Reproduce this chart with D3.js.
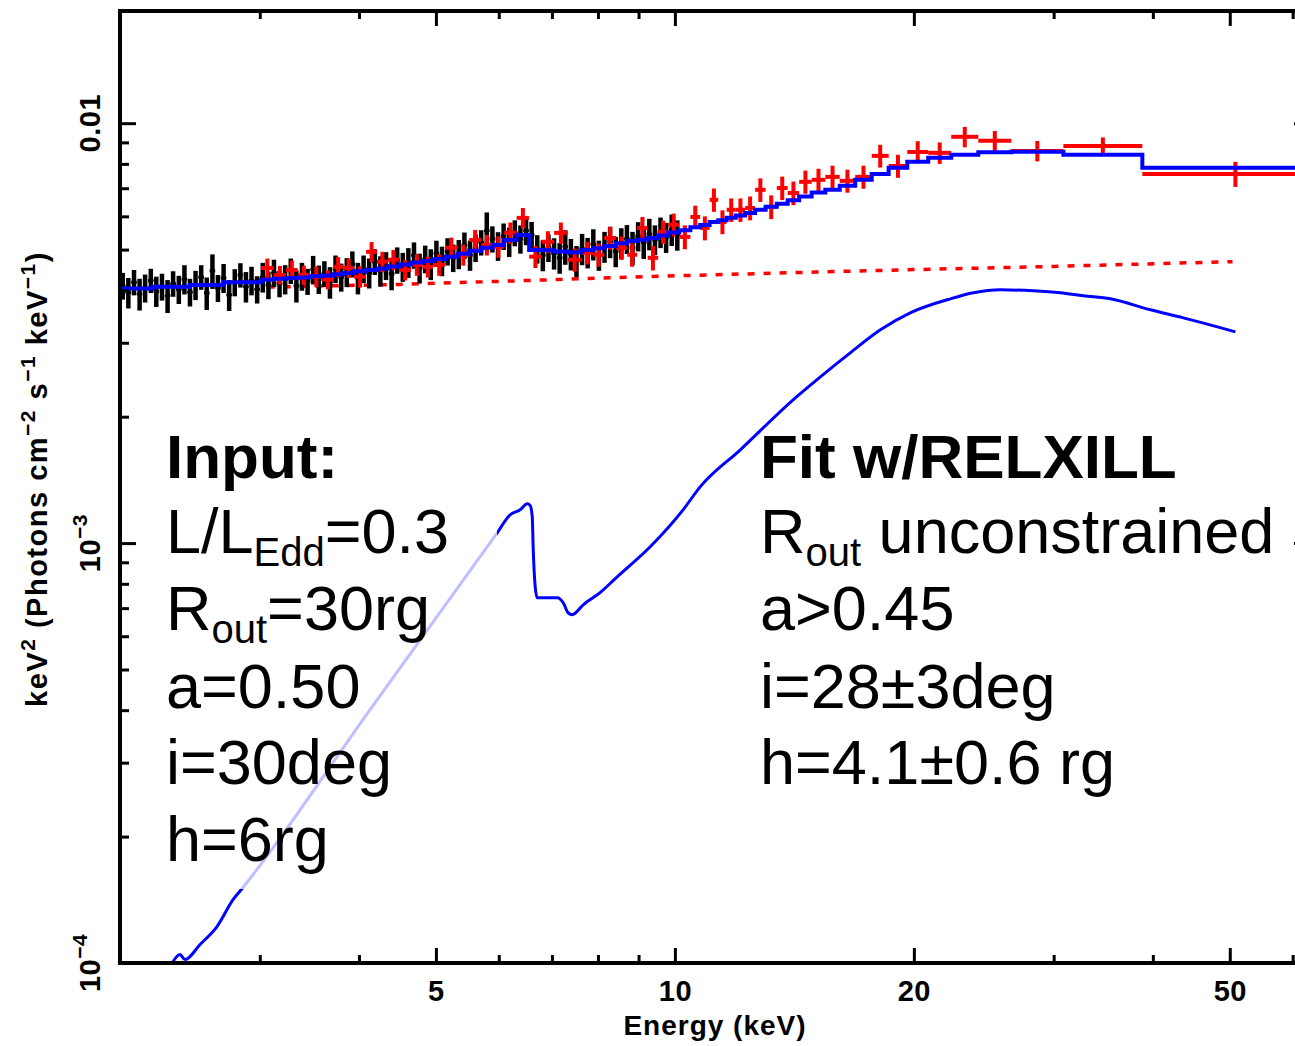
<!DOCTYPE html>
<html>
<head>
<meta charset="utf-8">
<script src="https://cdn.jsdelivr.net/npm/d3@7"></script>
<style>
  html, body { margin: 0; padding: 0; background: #fff; overflow: hidden; }
  svg { display: block; }
  text { font-family: "Liberation Sans", Arial, Helvetica, sans-serif; fill: #000; }
</style>
</head>
<body>
<svg id="chart" width="1295" height="1046"></svg>
<script>
// ---------------------------------------------------------------
// Unfolded spectrum, E^2 F(E); flux values below are in units of 1e-3
// keV^2 (Photons cm^-2 s^-1 keV^-1)
// ---------------------------------------------------------------
const FLUX_UNIT = 1e-3;

// axis ranges and ticks
const xDomain = [2, 63.1];
const yDomain = [1e-4, 0.0185];
const xTickMajor = [5, 10, 20, 50];
const xTickMinor = [3, 4, 6, 7, 8, 9, 30, 40, 60];
const yTickMajor = [1e-4, 1e-3, 1e-2];
const yTickMinor = [2e-4, 3e-4, 4e-4, 5e-4, 6e-4, 7e-4, 8e-4, 9e-4,
                    2e-3, 3e-3, 4e-3, 5e-3, 6e-3, 7e-3, 8e-3, 9e-3];
const yTickLabels = [["10", "\u22124"], ["10", "\u22123"], ["0.01", ""]];

// soft-band data (black): bin centre energies (keV), flux, 1-sigma error
const blackE = [2.016,2.049,2.083,2.117,2.151,2.187,2.222,2.259,2.296,2.333,
  2.372,2.411,2.450,2.490,2.531,2.572,2.615,2.657,2.701,2.745,
  2.790,2.836,2.882,2.929,2.977,3.026,3.076,3.126,3.177,3.229,
  3.282,3.336,3.390,3.446,3.502,3.560,3.618,3.677,3.737,3.799,
  3.861,3.924,3.988,4.054,4.120,4.188,4.256,4.326,4.397,4.469,
  4.542,4.616,4.692,4.769,4.847,4.926,5.007,5.089,5.172,5.257,
  5.343,5.431,5.520,5.610,5.702,5.795,5.890,5.987,6.085,6.185,
  6.286,6.389,6.494,6.600,6.708,6.818,6.930,7.044,7.159,7.276,
  7.396,7.517,7.640,7.765,7.893,8.022,8.154,8.287,8.423,8.561,
  8.701,8.844,8.989,9.136,9.286,9.438,9.592,9.749,9.909,10.07];
const blackFlux = [4.10,3.95,4.18,3.92,4.05,4.22,3.98,4.08,3.88,4.15,
  4.02,4.25,3.96,4.12,4.30,3.94,4.45,4.05,4.28,3.90,
  4.18,4.35,4.08,4.22,4.02,4.30,4.12,4.40,4.15,4.25,
  4.45,4.10,4.32,4.20,4.48,4.25,4.38,4.18,4.50,4.30,
  4.42,4.62,4.28,4.50,4.40,4.68,4.45,4.58,4.38,4.72,
  4.55,4.66,4.85,4.52,4.75,4.62,4.90,4.70,4.95,4.78,
  4.88,5.12,4.85,5.05,5.20,5.55,5.30,5.10,5.38,5.22,
  5.48,5.30,5.55,5.42,5.02,4.85,5.05,4.90,4.78,5.08,
  4.88,4.70,5.02,4.92,5.15,4.85,5.08,5.22,4.95,5.18,
  5.30,5.05,5.38,5.20,5.45,5.28,5.50,5.35,5.58,5.42];
const blackErr = [0.30,0.33,0.29,0.34,0.31,0.28,0.33,0.30,0.35,0.29,
  0.31,0.34,0.30,0.33,0.29,0.35,0.42,0.30,0.34,0.33,
  0.31,0.29,0.34,0.33,0.30,0.35,0.31,0.33,0.30,0.34,
  0.31,0.36,0.33,0.30,0.35,0.33,0.31,0.36,0.34,0.33,
  0.35,0.33,0.37,0.34,0.36,0.33,0.37,0.35,0.38,0.34,
  0.36,0.38,0.35,0.37,0.36,0.39,0.35,0.38,0.37,0.36,
  0.39,0.37,0.40,0.38,0.36,0.58,0.38,0.40,0.39,0.42,
  0.39,0.41,0.43,0.40,0.39,0.41,0.38,0.42,0.40,0.48,
  0.42,0.40,0.43,0.41,0.44,0.40,0.43,0.45,0.41,0.44,
  0.42,0.46,0.43,0.45,0.47,0.43,0.46,0.44,0.48,0.45];

// hard-band data (red): contiguous bin edges (keV), flux, 1-sigma error
const redEdges = [3.011,3.123,3.238,3.348,3.471,3.599,3.711,3.820,3.944,4.083,
  4.216,4.347,4.494,4.653,4.811,4.960,5.136,5.325,5.506,5.701,
  5.894,6.095,6.319,6.553,6.795,7.045,7.327,7.631,7.889,8.146,
  8.434,8.708,8.964,9.241,9.527,9.808,10.13,10.46,10.76,11.06,
  11.34,11.62,11.93,12.26,12.62,13.01,13.44,13.87,14.34,14.87,
  15.47,16.13,16.87,17.70,18.59,19.62,20.85,22.29,24.11,26.53,
  30.86,38.80,66.57];
const redFlux = [4.52,4.35,4.47,4.35,4.31,4.24,4.55,4.52,4.31,4.94,
  4.68,4.73,4.47,4.60,4.55,4.60,5.05,4.86,5.27,5.13,
  5.08,5.48,5.95,4.81,5.22,5.48,4.73,4.91,4.86,5.33,
  5.05,4.86,5.63,4.78,5.51,5.73,5.36,5.98,5.63,6.57,
  5.82,6.22,6.22,6.28,6.94,6.32,7.01,6.82,7.25,7.33,
  7.45,7.29,7.45,8.36,7.91,8.54,8.50,9.28,9.08,8.59,
  8.83,7.57];
const redErr = [0.24,0.22,0.24,0.23,0.24,0.22,0.25,0.24,0.25,0.27,
  0.26,0.26,0.25,0.27,0.26,0.27,0.29,0.28,0.30,0.29,
  0.30,0.32,0.33,0.29,0.31,0.32,0.30,0.30,0.31,0.33,
  0.32,0.31,0.35,0.32,0.35,0.36,0.35,0.38,0.37,0.42,
  0.38,0.40,0.40,0.41,0.45,0.41,0.45,0.44,0.46,0.46,
  0.47,0.46,0.47,0.52,0.50,0.52,0.50,0.52,0.50,0.48,
  0.42,0.52];

// total model (blue histogram): extra low-energy edges, then the hard-band bins
const modelLowEdges = [2.0, 2.2, 2.45, 2.7];
const modelFlux = [4.04,4.08,4.12,4.18,
  4.24,4.26,4.28,4.29,4.32,4.34,4.37,4.40,4.44,4.47,
  4.51,4.56,4.61,4.66,4.70,4.75,4.81,4.89,4.97,5.05,
  5.13,5.27,5.42,4.99,4.98,4.95,4.93,4.99,5.04,5.10,
  5.18,5.24,5.28,5.33,5.40,5.49,5.56,5.65,5.72,5.82,
  5.87,5.95,6.03,6.11,6.22,6.32,6.43,6.55,6.69,6.84,
  6.94,7.10,7.33,7.57,7.83,8.09,8.27,8.41,8.53,8.55,
  8.41,7.83];

// power-law continuum (red dotted)
const contE = [3.07, 4.5, 6.5, 10, 15, 20, 30, 50.4];
const contFlux = [4.07, 4.13, 4.22, 4.33, 4.42, 4.48, 4.56, 4.68];

// reflection component (blue curve)
const reflE = [2.332,2.380,2.415,2.523,2.650,2.776,2.849,4.131,5.973,
  6.200,6.383,6.516,6.573,6.612,6.631,6.669,6.708,
  7.108,7.233,7.338,7.424,7.665,8.050,8.458,9.309,
  10.24,10.76,12.09,14.09,15.25,16.63,18.15,19.79,
  22.24,23.77,25.70,28.29,30.59,32.71,35.36,39.72,43.70,48.24,50.82];
const reflFlux = [0.1007,0.1047,0.1019,0.1107,0.1221,0.1415,0.1503,0.4015,1.058,
  1.168,1.200,1.240,1.228,1.155,0.964,0.787,0.741,
  0.741,0.721,0.682,0.675,0.713,0.762,0.831,0.980,
  1.200,1.361,1.668,2.194,2.489,2.839,3.221,3.535,
  3.817,3.945,4.010,3.988,3.945,3.880,3.817,3.594,3.439,3.273,3.184];

// annotation text: [main, subscript, rest]
const inputTitle = "Input:";
const inputLines = [["L/L", "Edd", "=0.3"], ["R", "out", "=30rg"], ["a=0.50", "", ""],
                    ["i=30deg", "", ""], ["h=6rg", "", ""]];
const fitTitle = "Fit w/RELXILL";
const fitLines = [["R", "out", " unconstrained"], ["a>0.45", "", ""],
                  ["i=28\u00b13deg", "", ""], ["h=4.1\u00b10.6 rg", "", ""]];

const xTitle = "Energy (keV)";

// ---------------------------------------------------------------
const svg = d3.select("#chart");
const plot = { left: 120, right: 1310, top: 11, bottom: 963 };

const x = d3.scaleLog().domain(xDomain).range([plot.left, plot.right]);
const y = d3.scaleLog().domain(yDomain).range([plot.bottom, plot.top]);
const fy = v => y(v * FLUX_UNIT);

svg.append("defs").append("clipPath").attr("id", "plotclip")
  .append("rect")
  .attr("x", plot.left).attr("y", plot.top)
  .attr("width", plot.right - plot.left).attr("height", plot.bottom - plot.top);

const g = svg.append("g").attr("clip-path", "url(#plotclip)");

// continuum (dotted red)
g.append("path")
  .datum(contE.map((e, i) => [e, contFlux[i]]))
  .attr("fill", "none").attr("stroke", "#ff0000").attr("stroke-width", 3.5)
  .attr("stroke-dasharray", "7,9")
  .attr("d", d3.line().x(d => x(d[0])).y(d => fy(d[1])));

// black data: error bars with bin widths from neighbouring centres
const blackG = g.append("g").attr("stroke", "#000");
blackE.forEach((e, i) => {
  const prev = i > 0 ? blackE[i - 1] : e * e / blackE[i + 1];
  const next = i < blackE.length - 1 ? blackE[i + 1] : e * e / blackE[i - 1];
  const lo = Math.sqrt(prev * e), hi = Math.sqrt(e * next);
  const f = blackFlux[i], df = blackErr[i];
  blackG.append("line").attr("stroke-width", 3)
    .attr("x1", x(lo)).attr("x2", x(hi)).attr("y1", fy(f)).attr("y2", fy(f));
  blackG.append("line").attr("stroke-width", 4.5)
    .attr("x1", x(e)).attr("x2", x(e)).attr("y1", fy(f - df)).attr("y2", fy(f + df));
});

// red data crosses
const redG = g.append("g").attr("stroke", "#ff0000").attr("stroke-width", 4);
redFlux.forEach((f, i) => {
  const lo = redEdges[i], hi = redEdges[i + 1];
  const c = Math.sqrt(lo * hi), df = redErr[i];
  redG.append("line").attr("x1", x(lo)).attr("x2", x(hi)).attr("y1", fy(f)).attr("y2", fy(f));
  redG.append("line").attr("x1", x(c)).attr("x2", x(c)).attr("y1", fy(f - df)).attr("y2", fy(f + df));
});

// total model histogram (blue)
const modelEdges = modelLowEdges.concat(redEdges);
const modelPts = modelFlux.map((f, i) => [modelEdges[i], f]);
modelPts.push([modelEdges[modelEdges.length - 1], modelFlux[modelFlux.length - 1]]);
g.append("path").datum(modelPts)
  .attr("fill", "none").attr("stroke", "#0000ff").attr("stroke-width", 4)
  .attr("d", d3.line().x(d => x(d[0])).y(d => fy(d[1])).curve(d3.curveStepAfter));

// reflection component (blue)
g.append("path").datum(reflE.map((e, i) => [e, reflFlux[i]]))
  .attr("fill", "none").attr("stroke", "#0000ff").attr("stroke-width", 3)
  .attr("stroke-linejoin", "round")
  .attr("d", d3.line().x(d => x(d[0])).y(d => fy(d[1])).curve(d3.curveMonotoneX));

// translucent panel behind the input parameters
svg.append("rect")
  .attr("x", 150).attr("y", 415).attr("width", 347).attr("height", 474)
  .attr("fill", "#fff").attr("fill-opacity", 0.75);

// ---------------- axes ----------------
function styleTicks(sel) {
  sel.select(".domain").remove();
  sel.selectAll(".tick line").attr("stroke", "#000").attr("stroke-width", 3);
  sel.selectAll(".tick text")
    .attr("font-size", 29).attr("font-weight", "bold").attr("letter-spacing", 0.5)
    .attr("font-family", "'Liberation Sans', Arial, sans-serif").attr("fill", "#000");
}
const axes = svg.append("g");
axes.append("g").attr("transform", `translate(0,${plot.bottom})`)
  .call(d3.axisBottom(x).tickValues(xTickMajor).tickSizeInner(-15).tickSizeOuter(0)
    .tickPadding(17).tickFormat(d3.format("d"))).call(styleTicks);
axes.append("g").attr("transform", `translate(0,${plot.bottom})`)
  .call(d3.axisBottom(x).tickValues(xTickMinor).tickSizeInner(-8).tickSizeOuter(0)
    .tickFormat("")).call(styleTicks);
axes.append("g").attr("transform", `translate(0,${plot.top})`)
  .call(d3.axisTop(x).tickValues(xTickMajor).tickSizeInner(-15).tickSizeOuter(0)
    .tickFormat("")).call(styleTicks);
axes.append("g").attr("transform", `translate(0,${plot.top})`)
  .call(d3.axisTop(x).tickValues(xTickMinor).tickSizeInner(-8).tickSizeOuter(0)
    .tickFormat("")).call(styleTicks);
axes.append("g").attr("transform", `translate(${plot.left},0)`)
  .call(d3.axisLeft(y).tickValues(yTickMajor).tickSizeInner(-16).tickSizeOuter(0)
    .tickFormat("")).call(styleTicks);
axes.append("g").attr("transform", `translate(${plot.left},0)`)
  .call(d3.axisLeft(y).tickValues(yTickMinor).tickSizeInner(-9).tickSizeOuter(0)
    .tickFormat("")).call(styleTicks);
axes.append("g").attr("transform", `translate(${plot.right},0)`)
  .call(d3.axisRight(y).tickValues(yTickMajor).tickSizeInner(-16).tickSizeOuter(0)
    .tickFormat("")).call(styleTicks);
axes.append("g").attr("transform", `translate(${plot.right},0)`)
  .call(d3.axisRight(y).tickValues(yTickMinor).tickSizeInner(-9).tickSizeOuter(0)
    .tickFormat("")).call(styleTicks);

// frame
svg.append("rect")
  .attr("x", plot.left).attr("y", plot.top)
  .attr("width", plot.right - plot.left).attr("height", plot.bottom - plot.top)
  .attr("fill", "none").attr("stroke", "#000").attr("stroke-width", 4);

// y tick labels (rotated)
yTickMajor.forEach((v, i) => {
  const t = svg.append("text")
    .attr("transform", `translate(100,${y(v)}) rotate(-90)`)
    .attr("text-anchor", "middle").attr("font-size", 29).attr("font-weight", "bold")
    .attr("letter-spacing", 0.5);
  t.append("tspan").text(yTickLabels[i][0]);
  if (yTickLabels[i][1]) {
    t.append("tspan").attr("dy", -13).attr("font-size", 21).text(yTickLabels[i][1]);
  }
});

// axis titles
svg.append("text")
  .attr("x", (plot.left + plot.right) / 2).attr("y", 1035)
  .attr("text-anchor", "middle").attr("font-size", 28).attr("font-weight", "bold")
  .attr("letter-spacing", 1)
  .text(xTitle);

const yt = svg.append("text")
  .attr("transform", `translate(47,${(plot.top + plot.bottom) / 2 - 8}) rotate(-90)`)
  .attr("text-anchor", "middle").attr("font-size", 29).attr("font-weight", "bold")
  .attr("letter-spacing", 1.5);
const yTitleParts = [["keV", 0], ["2", 1], [" (Photons cm", 0], ["\u22122", 1], [" s", 0],
                     ["\u22121", 1], [" keV", 0], ["\u22121", 1], [")", 0]];
let raised = false;
yTitleParts.forEach(([s, sup]) => {
  const ts = yt.append("tspan").text(s);
  if (sup && !raised) { ts.attr("dy", -12).attr("font-size", 21); raised = true; }
  else if (sup) { ts.attr("font-size", 21); }
  else if (raised) { ts.attr("dy", 12); raised = false; }
});

// annotation blocks
function block(x0, title, lines) {
  svg.append("text").attr("x", x0).attr("y", 478)
    .attr("font-size", 62).attr("font-weight", "bold").text(title);
  const base = [553, 630, 708, 784, 861];
  lines.forEach((ln, i) => {
    const t = svg.append("text").attr("x", x0).attr("y", base[i]).attr("font-size", 63);
    t.append("tspan").text(ln[0]);
    if (ln[1]) {
      t.append("tspan").attr("dy", 13).attr("font-size", 40).text(ln[1]);
      t.append("tspan").attr("dy", -13).text(ln[2]);
    }
  });
}
block(166, inputTitle, inputLines);
block(760, fitTitle, fitLines);
</script>
</body>
</html>
